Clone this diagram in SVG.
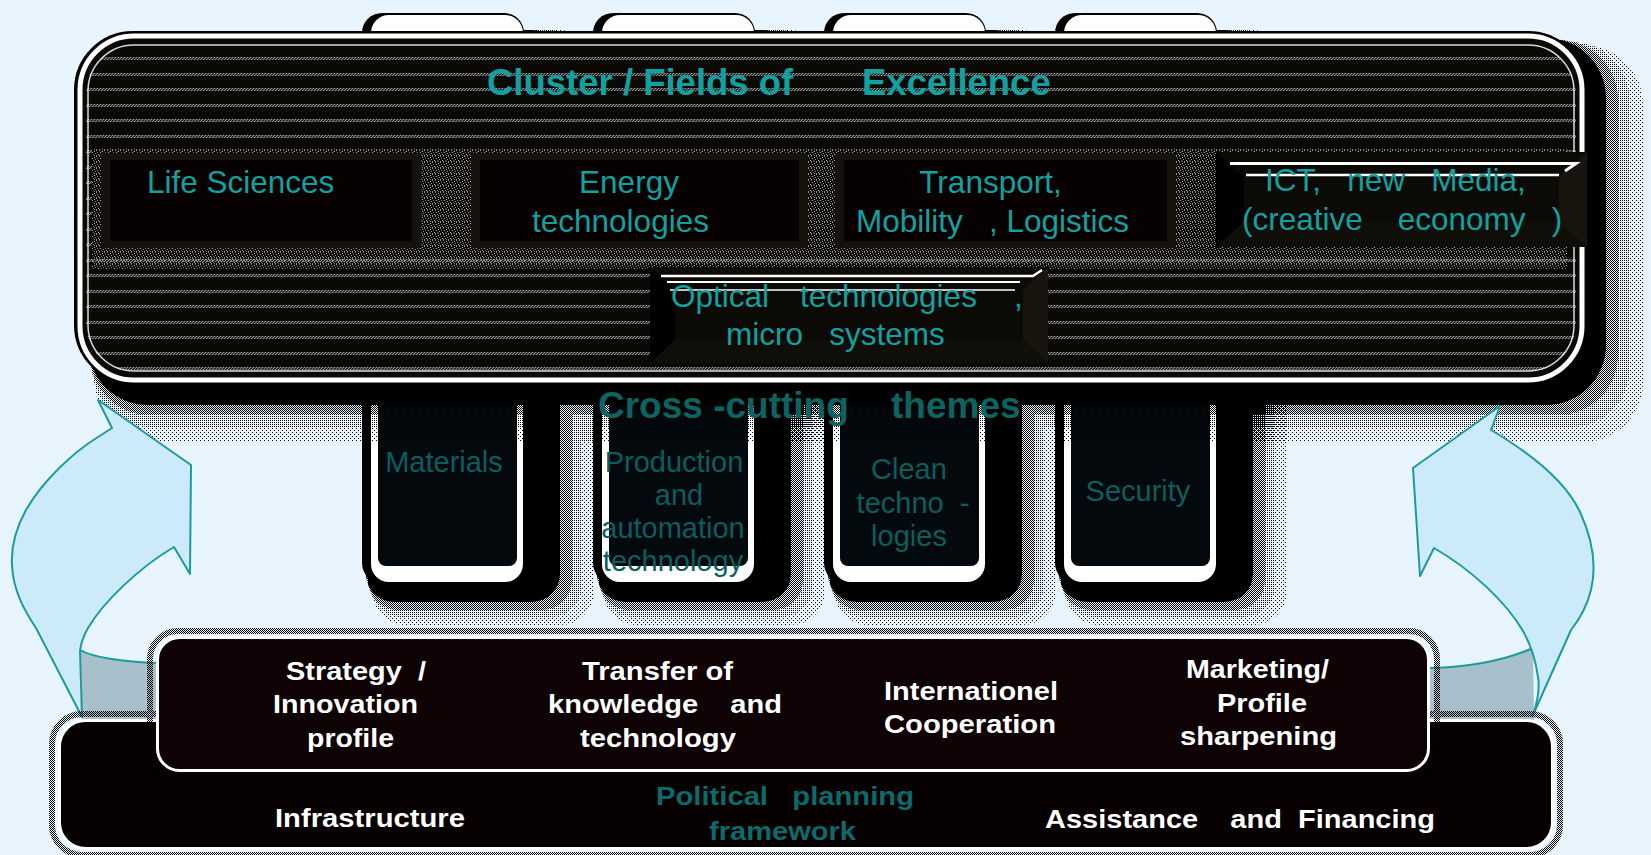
<svg xmlns="http://www.w3.org/2000/svg" width="1651" height="855" viewBox="0 0 1651 855">
<defs>
<style>
.t{font-family:"Liberation Sans",Arial,Helvetica,sans-serif}
.teal{fill:#14a0a0;font-size:31.5px}
.title{fill:#12a0a0;font-size:36.5px;font-weight:bold}
.cross{fill:#0d6262;font-size:37px;font-weight:bold}
.col{fill:#0a5e5e;font-size:29px;text-anchor:middle}
.mid{text-anchor:middle}
.wb{fill:#fff;font-size:26px;font-weight:bold}
.pol{fill:#0b6b6b;font-size:26px;font-weight:bold}
.arrow{fill:#cdeafb;stroke:#1b9c9c;stroke-width:2;stroke-linejoin:round}
.gray{fill:#a8bfcc}
.edge{fill:none;stroke:#1b9c9c;stroke-width:2}
.ibox{fill:#15110b}
.iface{fill:#070101}
.bv-base{fill:#0b0a06}
.bv-l{fill:#000}
.bv-r{fill:#17150d}
.bv-b{fill:#100e08}
.hl{stroke:#fff;fill:none}
</style>
<pattern id="d75" width="2" height="2" patternUnits="userSpaceOnUse"><rect width="2" height="1"/><rect y="1" width="1" height="1"/></pattern>
<pattern id="d50" width="2" height="2" patternUnits="userSpaceOnUse"><rect width="1" height="1"/><rect x="1" y="1" width="1" height="1"/></pattern>
<pattern id="d25" width="2" height="2" patternUnits="userSpaceOnUse"><rect width="1" height="1"/></pattern>
<pattern id="d12" width="4" height="4" patternUnits="userSpaceOnUse"><rect width="1" height="1"/><rect x="2" y="2" width="1" height="1"/></pattern>
<pattern id="stripes" width="6" height="31" patternUnits="userSpaceOnUse" patternTransform="translate(0,57)">
<rect y="0" width="6" height="1" fill="#3a3a3a"/><rect x="1" y="0" width="1" height="1" fill="#a8a8a8"/><rect x="4" y="0" width="1" height="1" fill="#a8a8a8"/>
<rect y="1" width="6" height="1" fill="#1e1e1e"/><rect x="0" y="1" width="1" height="1" fill="#8a8a8a"/><rect x="3" y="1" width="1" height="1" fill="#8a8a8a"/>
<rect y="2" width="6" height="1" fill="#3a3a3a"/><rect x="2" y="2" width="1" height="1" fill="#9a9a9a"/><rect x="5" y="2" width="1" height="1" fill="#9a9a9a"/>
<rect y="16" width="6" height="1" fill="#3a3a3a"/><rect x="1" y="16" width="1" height="1" fill="#a8a8a8"/><rect x="4" y="16" width="1" height="1" fill="#a8a8a8"/>
<rect y="17" width="6" height="1" fill="#1e1e1e"/><rect x="0" y="17" width="1" height="1" fill="#8a8a8a"/><rect x="3" y="17" width="1" height="1" fill="#8a8a8a"/>
<rect y="18" width="6" height="1" fill="#3a3a3a"/><rect x="2" y="18" width="1" height="1" fill="#9a9a9a"/><rect x="5" y="18" width="1" height="1" fill="#9a9a9a"/>
</pattern>
<pattern id="noise" width="8" height="6" patternUnits="userSpaceOnUse">
<rect x="0" y="0" width="1" height="1" fill="#9a9a9a"/><rect x="3" y="0" width="1" height="1" fill="#666"/><rect x="6" y="1" width="1" height="1" fill="#bbb"/><rect x="1" y="2" width="1" height="1" fill="#777"/><rect x="4" y="2" width="1" height="1" fill="#aaa"/><rect x="7" y="3" width="1" height="1" fill="#888"/><rect x="2" y="4" width="1" height="1" fill="#bbb"/><rect x="5" y="4" width="1" height="1" fill="#666"/><rect x="0" y="5" width="1" height="1" fill="#888"/><rect x="3" y="5" width="1" height="1" fill="#999"/><rect x="6" y="5" width="1" height="1" fill="#777"/>
</pattern>
<g id="colShape">
<rect x="10" y="30" width="222" height="595" rx="34" fill="url(#d12)"/>
<rect x="8" y="30" width="212" height="587" rx="32" fill="url(#d25)"/>
<rect x="6" y="30" width="204" height="580" rx="30" fill="url(#d50)"/>
<rect x="4" y="30" width="194" height="572" rx="28" fill="url(#d75)"/>
<rect x="2" y="30" width="174" height="560" rx="24" fill="#000"/>
<rect x="0" y="13" width="162" height="570" rx="20" fill="#000"/>
<rect x="9" y="15" width="152" height="567" rx="18" fill="#fff"/>
<rect x="16" y="31" width="139" height="535" rx="8" fill="#03090c"/>
</g>
</defs>

<rect width="1651" height="855" fill="#e9f5fe"/>

<g id="col-materials"><use href="#colShape" x="362"/><text class="t col" x="444" y="472">Materials</text></g>
<g id="col-production"><use href="#colShape" x="593"/><text class="t col"><tspan x="674" y="472">Production</tspan><tspan x="679" y="505">and</tspan><tspan x="673" y="538">automation</tspan><tspan x="673" y="571">technology</tspan></text></g>
<g id="col-clean"><use href="#colShape" x="824"/><text class="t col" xml:space="preserve"><tspan x="909" y="479">Clean</tspan><tspan x="913" y="513">techno  -</tspan><tspan x="909" y="546">logies</tspan></text></g>
<g id="col-security"><use href="#colShape" x="1055"/><text class="t col" x="1138" y="501">Security</text></g>

<g id="cluster">
<rect x="95" y="45" width="1548" height="397" rx="60" fill="url(#d12)"/>
<rect x="92" y="42" width="1538" height="385" rx="60" fill="url(#d25)"/>
<rect x="90" y="40" width="1528" height="375" rx="60" fill="url(#d50)"/>
<rect x="88" y="38" width="1518" height="367" rx="60" fill="url(#d75)"/>
<rect x="86" y="36" width="1506" height="357" rx="58" fill="#000"/>
<rect x="75" y="32" width="1511" height="351" rx="58" fill="#0b0906" stroke="#000" stroke-width="2"/>
<rect x="86" y="46" width="1490" height="326" rx="48" fill="url(#stripes)"/>
<rect x="92" y="149" width="1475" height="103" fill="#0b0906"/>
<rect x="92" y="149" width="1475" height="120" fill="url(#noise)"/>
<rect x="80" y="36" width="1502" height="344" rx="54" fill="none" stroke="#fff" stroke-width="5"/>
<rect x="88" y="45" width="1486" height="326" rx="46" fill="none" stroke="#fff" stroke-width="1.5" opacity="0.85"/>
<text class="t title" x="487" y="95">Cluster / Fields of<tspan x="862">Excellence</tspan></text>
</g>

<g id="life-sciences">
<rect x="101" y="153" width="320" height="95" class="ibox"/>
<rect x="110" y="160" width="302" height="81" class="iface"/>
<text class="t teal" x="147" y="193">Life Sciences</text>
</g>
<g id="energy">
<rect x="471" y="153" width="337" height="95" class="ibox"/>
<rect x="480" y="160" width="319" height="81" class="iface"/>
<text class="t teal mid"><tspan x="629" y="193">Energy</tspan><tspan x="620.5" y="232">technologies</tspan></text>
</g>
<g id="transport">
<rect x="835" y="153" width="341" height="95" class="ibox"/>
<rect x="844" y="160" width="323" height="81" class="iface"/>
<text class="t teal mid" x="990.5" y="193">Transport,</text>
<text class="t teal" x="856" y="232" xml:space="preserve">Mobility   , Logistics</text>
</g>
<g id="ict">
<rect x="1216" y="152" width="371" height="95" class="bv-base"/>
<polygon points="1216,152 1244,177 1244,222 1216,247" class="bv-l"/>
<polygon points="1587,152 1587,247 1559,222 1559,177" class="bv-r"/>
<polygon points="1216,247 1244,222 1559,222 1587,247" class="bv-b"/>
<polyline points="1230,163.5 1576,163.5 1565,171" class="hl" stroke-width="3"/>
<line x1="1246" y1="175" x2="1559" y2="175" class="hl" stroke-width="2.5"/>
<text class="t teal" x="1265" y="191" xml:space="preserve">ICT,   new   Media,</text>
<text class="t teal" x="1242" y="230" xml:space="preserve">(creative    economy   )</text>
</g>
<g id="optical">
<rect x="650" y="267" width="398" height="96" class="bv-base"/>
<polygon points="650,267 675,290 675,340 650,363" class="bv-l"/>
<polygon points="1048,267 1048,363 1023,340 1023,290" class="bv-r"/>
<polygon points="650,363 675,340 1023,340 1048,363" class="bv-b"/>
<polyline points="661,276 1033,276 1042,270" class="hl" stroke-width="2.5"/>
<line x1="667" y1="282" x2="1020" y2="282" class="hl" stroke-width="2"/>
<line x1="670" y1="290" x2="1015" y2="290" class="hl" stroke-width="1.5"/>
<text class="t teal" y="307"><tspan x="671">Optical</tspan><tspan x="800">technologies</tspan><tspan x="1014">,</tspan></text>
<text class="t teal" x="726" y="345" xml:space="preserve">micro   systems</text>
</g>

<g id="cross-cutting">
<text class="t cross" y="418"><tspan x="598">Cross -cutting</tspan><tspan x="891">themes</tspan></text>
</g>

<g id="connectors">
<path class="gray" d="M80,649 C92,657 122,662 160,663 L160,722 L82,722 Z"/>
<path class="edge" d="M80,650 C92,657 122,662 158,663"/>
<path class="gray" d="M1533,648 C1510,658 1478,667 1426,668 L1426,722 L1534,722 Z"/>
<path class="edge" d="M1533,648 C1510,658 1478,667 1430,668"/>
<path class="arrow" d="M98,400 L112,428 L98,437 C72,453 42,482 26,510 C16,528 11,548 12,565 C13,590 24,610 36,628 L82,717 L80,651 C81,642 84,635 88,628 C104,601 140,567 174,547 L190,574 L191,465 Z"/>
<path class="arrow" d="M1500,406 L1491,430 C1530,453 1566,482 1580,512 C1592,538 1597,565 1591,590 C1587,606 1579,620 1571,630 L1533,715 C1538,700 1540,688 1538,677 C1536,662 1531,645 1523,631 C1506,602 1472,570 1434,548 L1420,576 L1413,468 Z"/>
</g>

<g id="policy">
<rect x="52" y="714" width="1508" height="141" rx="30" fill="none" stroke="url(#d50)" stroke-width="6"/>
<rect x="59.5" y="720.5" width="1493" height="128" rx="26" fill="#060000" stroke="#fff" stroke-width="3"/>
<text class="t wb" x="275" y="827" textLength="190" lengthAdjust="spacingAndGlyphs">Infrastructure</text>
<text class="t pol" x="656" y="805" textLength="258" lengthAdjust="spacingAndGlyphs" xml:space="preserve">Political   planning</text>
<text class="t pol" x="709" y="840" textLength="147" lengthAdjust="spacingAndGlyphs">framework</text>
<text class="t wb" x="1045" y="828" textLength="390" lengthAdjust="spacingAndGlyphs" xml:space="preserve">Assistance    and  Financing</text>
</g>

<g id="strategy">
<rect x="150" y="631" width="1287" height="147" rx="28" fill="none" stroke="url(#d50)" stroke-width="6"/>
<rect x="157.5" y="637.5" width="1271" height="133" rx="22" fill="#0e0204" stroke="#fff" stroke-width="3"/>
<text class="t wb" x="286" y="680" textLength="140" lengthAdjust="spacingAndGlyphs" xml:space="preserve">Strategy  /</text>
<text class="t wb" x="273" y="713" textLength="145" lengthAdjust="spacingAndGlyphs">Innovation</text>
<text class="t wb" x="307" y="747" textLength="87" lengthAdjust="spacingAndGlyphs">profile</text>
<text class="t wb" x="582" y="680" textLength="151" lengthAdjust="spacingAndGlyphs">Transfer of</text>
<text class="t wb" x="548" y="713" textLength="234" lengthAdjust="spacingAndGlyphs" xml:space="preserve">knowledge    and</text>
<text class="t wb" x="580" y="747" textLength="156" lengthAdjust="spacingAndGlyphs">technology</text>
<text class="t wb" x="884" y="700" textLength="174" lengthAdjust="spacingAndGlyphs">Internationel</text>
<text class="t wb" x="884" y="733" textLength="172" lengthAdjust="spacingAndGlyphs">Cooperation</text>
<text class="t wb" x="1186" y="678" textLength="143" lengthAdjust="spacingAndGlyphs">Marketing/</text>
<text class="t wb" x="1217" y="712" textLength="90" lengthAdjust="spacingAndGlyphs">Profile</text>
<text class="t wb" x="1180" y="745" textLength="157" lengthAdjust="spacingAndGlyphs">sharpening</text>
</g>
</svg>
